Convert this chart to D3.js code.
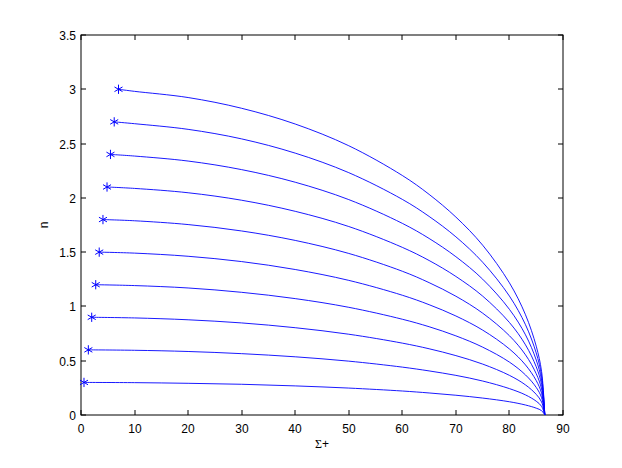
<html>
<head>
<meta charset="UTF-8"/>
<script src="https://d3js.org/d3.v7.min.js"></script>
<style>
body { margin: 0; background: #fff; }
text { font-family: "Liberation Sans", Arial, Helvetica, sans-serif; font-size: 12px; fill: #000; }
.sym { font-family: "Liberation Serif", "DejaVu Serif", serif; }
</style>
</head>
<body>
<svg id='big' width=622 height=468></svg>
<script>
'use strict';

// sample positions along Σ+ (the first one is replaced by each curve's own start)
var sigmaSamples = [null, 10, 20, 30, 40, 50, 60, 65, 70, 75, 80, 83, 85, 86, 86.6];

// start of each curve (the * markers)
var startSigma = [0.56, 1.37, 2.0, 2.75, 3.4, 4.1, 4.86, 5.5, 6.2, 7.0];
var startN     = [0.3, 0.6, 0.9, 1.2, 1.5, 1.8, 2.1, 2.4, 2.7, 3.0];

// n at sigmaSamples
var curveN = [
	[0.30, 0.298, 0.292, 0.283, 0.268, 0.248, 0.221, 0.203, 0.182, 0.156, 0.122, 0.092, 0.063, 0.040, 0],
	[0.60, 0.596, 0.585, 0.565, 0.536, 0.496, 0.441, 0.406, 0.365, 0.313, 0.243, 0.185, 0.127, 0.080, 0],
	[0.90, 0.894, 0.877, 0.848, 0.804, 0.744, 0.662, 0.610, 0.547, 0.469, 0.365, 0.277, 0.190, 0.120, 0],
	[1.20, 1.192, 1.170, 1.130, 1.072, 0.992, 0.882, 0.813, 0.729, 0.625, 0.487, 0.369, 0.254, 0.160, 0],
	[1.50, 1.491, 1.462, 1.413, 1.340, 1.240, 1.103, 1.016, 0.912, 0.782, 0.608, 0.461, 0.317, 0.200, 0],
	[1.80, 1.789, 1.754, 1.695, 1.608, 1.488, 1.324, 1.219, 1.094, 0.938, 0.730, 0.554, 0.380, 0.240, 0],
	[2.10, 2.087, 2.047, 1.978, 1.876, 1.736, 1.544, 1.423, 1.276, 1.095, 0.852, 0.646, 0.444, 0.281, 0],
	[2.40, 2.385, 2.339, 2.260, 2.144, 1.984, 1.765, 1.626, 1.458, 1.251, 0.973, 0.738, 0.507, 0.321, 0],
	[2.70, 2.683, 2.631, 2.543, 2.412, 2.232, 1.986, 1.829, 1.641, 1.407, 1.095, 0.831, 0.571, 0.361, 0],
	[3.00, 2.981, 2.924, 2.825, 2.680, 2.480, 2.206, 2.032, 1.823, 1.564, 1.217, 0.923, 0.634, 0.401, 0]
];

var xTicks = [0, 10, 20, 30, 40, 50, 60, 70, 80, 90];
var yTicks = [0, 0.5, 1, 1.5, 2, 2.5, 3, 3.5];
var xLabel = ['Σ', '+'];
var yLabel = 'n';


function main(){
	var svg = d3.select('#big');
	var left = 81, right = 563, top = 35, bottom = 415;
	var tick = 5;

	var sx = d3.scaleLinear().domain([0, 90]).range([left, right]);
	var sy = d3.scaleLinear().domain([0, 3.5]).range([bottom, top]);

	// box
	svg.append('rect')
	.attr('x', left)
	.attr('y', top)
	.attr('width', right - left)
	.attr('height', bottom - top)
	.attr('fill', 'none')
	.attr('stroke', '#000')
	.attr('stroke-width', 1);

	// x ticks (bottom and top, pointing inward)
	var gx = svg.append('g').attr('class', 'xticks');
	xTicks.forEach(function(t){
		var x = Math.round(sx(t));
		gx.append('line').attr('x1', x).attr('x2', x).attr('y1', bottom).attr('y2', bottom - tick).attr('stroke', '#000');
		gx.append('line').attr('x1', x).attr('x2', x).attr('y1', top).attr('y2', top + tick).attr('stroke', '#000');
		gx.append('text')
		.attr('x', x)
		.attr('y', bottom + 17.5)
		.attr('text-anchor', 'middle')
		.text(t);
	});

	var gy = svg.append('g').attr('class', 'yticks');
	yTicks.forEach(function(t){
		var y = Math.round(sy(t));
		gy.append('line').attr('x1', left).attr('x2', left + tick).attr('y1', y).attr('y2', y).attr('stroke', '#000');
		gy.append('line').attr('x1', right).attr('x2', right - tick).attr('y1', y).attr('y2', y).attr('stroke', '#000');
		gy.append('text')
		.attr('x', left - 5)
		.attr('y', y + 4.5)
		.attr('text-anchor', 'end')
		.text(t);
	});

	var xl = svg.append('text')
	.attr('x', (left + right) / 2)
	.attr('y', 448)
	.attr('text-anchor', 'middle');
	xl.append('tspan').attr('class', 'sym').text(xLabel[0]);
	xl.append('tspan').text(xLabel[1]);

	svg.append('text')
	.attr('transform', 'translate(47.5,' + (top + bottom) / 2 + ') rotate(-90)')
	.attr('text-anchor', 'middle')
	.text(yLabel);

	var line = d3.line()
	.x(function(d){ return sx(d[0]); })
	.y(function(d){ return sy(d[1]); })
	.curve(d3.curveCatmullRom.alpha(0.5));

	var curves = curveN.map(function(ns, i){
		return ns.map(function(n, j){
			return [j == 0 ? startSigma[i] : sigmaSamples[j], n];
		});
	});

	svg.selectAll('.curve')
	.data(curves)
	.enter()
	.append('path')
	.attr('class', 'curve')
	.attr('d', line)
	.attr('fill', 'none')
	.attr('stroke', '#0000ff')
	.attr('stroke-width', 0.9);

	var star = d3.symbol().type(d3.symbolAsterisk).size(60);
	svg.selectAll('.star')
	.data(startN)
	.enter()
	.append('path')
	.attr('class', 'star')
	.attr('transform', function(d, i){
		return 'translate(' + sx(startSigma[i]) + ',' + sy(d) + ')';
	})
	.attr('d', star)
	.attr('fill', 'none')
	.attr('stroke', '#0000ff')
	.attr('stroke-width', 1);
}

main();
</script>
</body>
</html>
